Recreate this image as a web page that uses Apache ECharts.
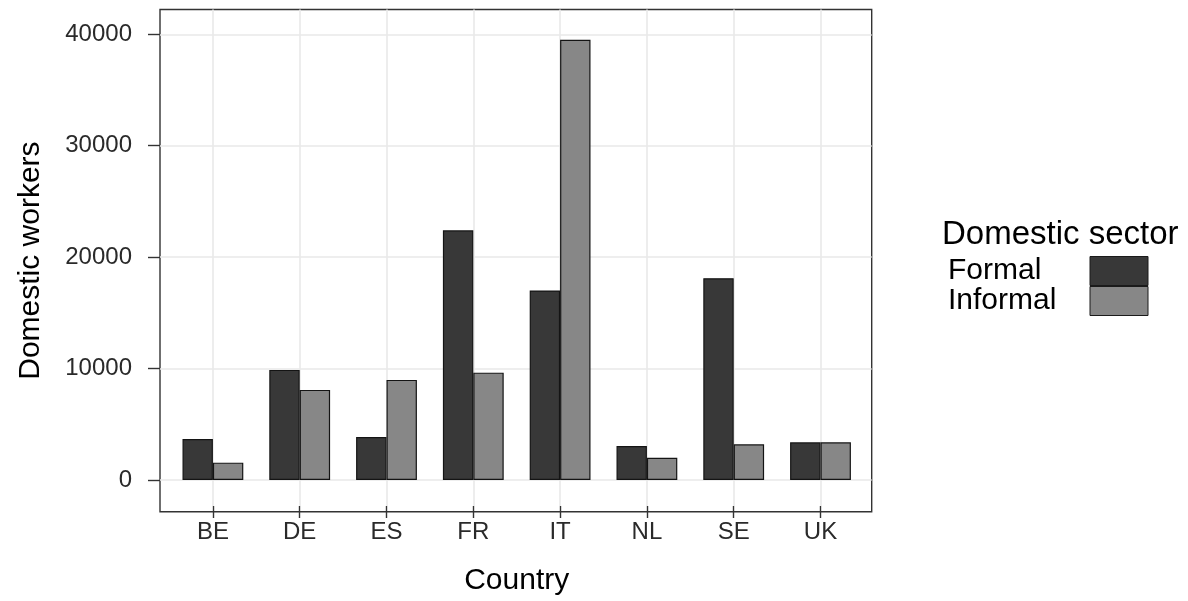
<!DOCTYPE html>
<html><head><meta charset="utf-8">
<script src="https://cdn.jsdelivr.net/npm/echarts@6/dist/echarts.min.js"></script>
<style>html,body{margin:0;padding:0;background:#fff}#c{width:1188px;height:601px}</style>
</head><body><div id="c"></div>
<script>
// ---- data ----
const categories = ['BE', 'DE', 'ES', 'FR', 'IT', 'NL', 'SE', 'UK'];
const formal = [3680, 9875, 3860, 22400, 17000, 3050, 18100, 3380];
const informal = [1555, 8080, 8980, 9630, 39500, 2000, 3200, 3380];
const seriesNames = ['Formal', 'Informal'];
const legendTitle = 'Domestic sector';
const xTitle = 'Country';
const yTitle = 'Domestic workers';
const yMaxTick = 40000;
const yStep = 10000;
const yPanelMin = -2845;
const yPanelMax = 42208;

// ---- styling ----
const FONT = "'Liberation Sans', Arial, Helvetica, sans-serif";
const GRIDCOL = '#e9e9e9';
const AXCOL = '#333333';
const TICKTXT = '#2a2a2a';

const chart = echarts.init(document.getElementById('c'), null, {renderer: 'canvas'});
const hiddenVal = (gi) => ({gridIndex: gi, type: 'value', show: false, min: 0, max: 1});

chart.setOption({
  animation: false,
  backgroundColor: '#ffffff',
  textStyle: {fontFamily: FONT},
  title: {
    text: legendTitle, left: 937, top: 213, padding: 5,
    textStyle: {fontSize: 33, fontWeight: 'normal', color: '#000', fontFamily: FONT}
  },
  legend: {
    orient: 'vertical', left: 948, top: 256, padding: 0,
    itemWidth: 58, itemHeight: 29, itemGap: 0, align: 'right', icon: 'rect',
    data: seriesNames,
    formatter: '{a|{name}}',
    itemStyle: {borderColor: '#1a1a1a', borderWidth: 1},
    textStyle: {
      fontSize: 30, color: '#000', fontFamily: FONT,
      rich: {a: {width: 137, align: 'left', fontSize: 30, color: '#000', fontFamily: FONT}}
    }
  },
  grid: [
    // 0: horizontal grid lines + y labels (value 0 .. 40000)
    {left: 160, top: 34.3, width: 711.7, height: 445.7},
    // 1: bars (full panel height)
    {left: 169.5, top: 9.5, width: 694.4, height: 502.2},
    // 2: panel frame
    {left: 160, top: 9.5, width: 711.7, height: 502.2, show: true,
     borderColor: AXCOL, borderWidth: 1.4, backgroundColor: 'rgba(0,0,0,0)'},
    // 3: x axis labels / ticks / vertical grid lines at category centres
    {left: 212.9, top: 9.5, width: 607.6, height: 502.2}
  ],
  xAxis: [
    hiddenVal(0),
    {gridIndex: 1, type: 'category', data: categories, show: false},
    hiddenVal(2),
    {gridIndex: 3, type: 'category', data: categories, boundaryGap: false,
     axisLine: {show: false},
     axisTick: {show: true, length: 12, interval: 0, lineStyle: {color: AXCOL, width: 1.4}},
     axisLabel: {margin: 14, interval: 0, fontSize: 24, color: TICKTXT, fontFamily: FONT},
     splitLine: {show: true, interval: 0, lineStyle: {color: GRIDCOL, width: 1.6}},
     name: xTitle, nameLocation: 'middle', nameGap: 60,
     nameTextStyle: {fontSize: 30, color: '#000', fontFamily: FONT}}
  ],
  yAxis: [
    {gridIndex: 0, type: 'value', min: 0, max: yMaxTick, interval: yStep,
     axisLine: {show: false},
     axisTick: {show: true, length: 12, lineStyle: {color: AXCOL, width: 1.4}},
     axisLabel: {margin: 28, fontSize: 24, color: TICKTXT, fontFamily: FONT,
                 formatter: (v) => String(v)},
     splitLine: {show: true, lineStyle: {color: GRIDCOL, width: 1.6}}},
    {gridIndex: 1, type: 'value', min: yPanelMin, max: yPanelMax, show: false},
    {gridIndex: 2, type: 'value', min: 0, max: 1, show: true,
     axisLine: {show: false}, axisTick: {show: false}, axisLabel: {show: false}, splitLine: {show: false},
     name: yTitle, nameLocation: 'middle', nameGap: 114, nameRotate: 90,
     nameTextStyle: {fontSize: 30, color: '#000', fontFamily: FONT}},
    {gridIndex: 3, type: 'value', show: false, min: 0, max: 1}
  ],
  series: [
    {name: seriesNames[0], type: 'bar', xAxisIndex: 1, yAxisIndex: 1, data: formal,
     barWidth: 30.4, barGap: '0%',
     itemStyle: {color: '#383838', borderColor: '#141414', borderWidth: 1.2}},
    {name: seriesNames[1], type: 'bar', xAxisIndex: 1, yAxisIndex: 1, data: informal,
     barWidth: 30.4, barGap: '0%',
     itemStyle: {color: '#878787', borderColor: '#141414', borderWidth: 1.2}}
  ]
});
</script>
</body></html>
